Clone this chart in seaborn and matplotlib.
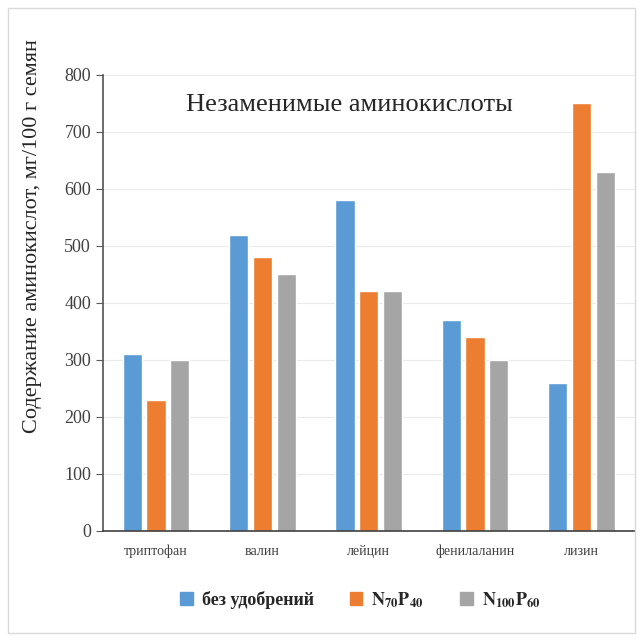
import pandas as pd
import matplotlib.pyplot as plt
import seaborn as sns
from matplotlib.patches import Rectangle

sns.set_theme(style="white")
plt.rcParams['font.family'] = ['Liberation Serif', 'DejaVu Serif']
plt.rcParams['mathtext.fontset'] = 'stix'

# data
acids = ['триптофан', 'валин', 'лейцин', 'фенилаланин', 'лизин']
no_fert = [310, 520, 580, 370, 260]
n70p40 = [230, 480, 420, 340, 750]
n100p60 = [300, 450, 420, 300, 630]
series = ['без удобрений', r'$\mathbf{N_{70}P_{40}}$', r'$\mathbf{N_{100}P_{60}}$']
colors = ['#5B9BD5', '#ED7D31', '#A5A5A5']

df = pd.DataFrame({
    'acid': acids * 3,
    'value': no_fert + n70p40 + n100p60,
    'variant': [series[0]] * 5 + [series[1]] * 5 + [series[2]] * 5,
})

fig = plt.figure(figsize=(6.43, 6.41), dpi=100)
ax = fig.add_axes([0.160, 0.172, 0.827, 0.711])

sns.barplot(data=df, x='acid', y='value', hue='variant', palette=colors,
            width=0.67, gap=0.19, saturation=1, ax=ax, legend=False)

ax.set_ylim(0, 800)
ax.set_xlim(-0.5, 4.5)
ax.set_yticks(range(0, 801, 100))
ax.grid(axis='y', color='#EBEBEB', linewidth=0.8)
ax.set_axisbelow(True)
ax.set_xlabel('')
ax.set_ylabel('Содержание аминокислот, мг/100 г семян', fontsize=16)
ax.yaxis.set_label_coords(-0.115, 0.647)
ax.tick_params(axis='y', labelsize=13, length=5, width=0.8, color='#595959',
               left=True, labelcolor='#404040')
ax.tick_params(axis='x', labelsize=10, length=0, pad=10, labelcolor='#404040')
for s in ['top', 'right']:
    ax.spines[s].set_visible(False)
ax.spines['left'].set_color('#595959')
ax.spines['bottom'].set_color('#404040')
ax.spines['bottom'].set_linewidth(1.2)

ax.text(0.464, 0.935, 'Незаменимые аминокислоты', transform=ax.transAxes,
        ha='center', va='center', fontsize=19)

handles = [Rectangle((0, 0), 1, 1, color=c) for c in colors]
fig.legend(handles, series, loc='center', bbox_to_anchor=(0.56, 0.064), ncol=3,
           frameon=False, handlelength=0.7, handleheight=0.7, columnspacing=2.0,
           handletextpad=0.5, prop={'weight': 'bold', 'size': 13})

fig.patches.append(Rectangle((0.012, 0.012), 0.976, 0.976, transform=fig.transFigure,
                             fill=False, edgecolor='#D9D9D9', linewidth=1))

fig.savefig('out.png', dpi=100)
